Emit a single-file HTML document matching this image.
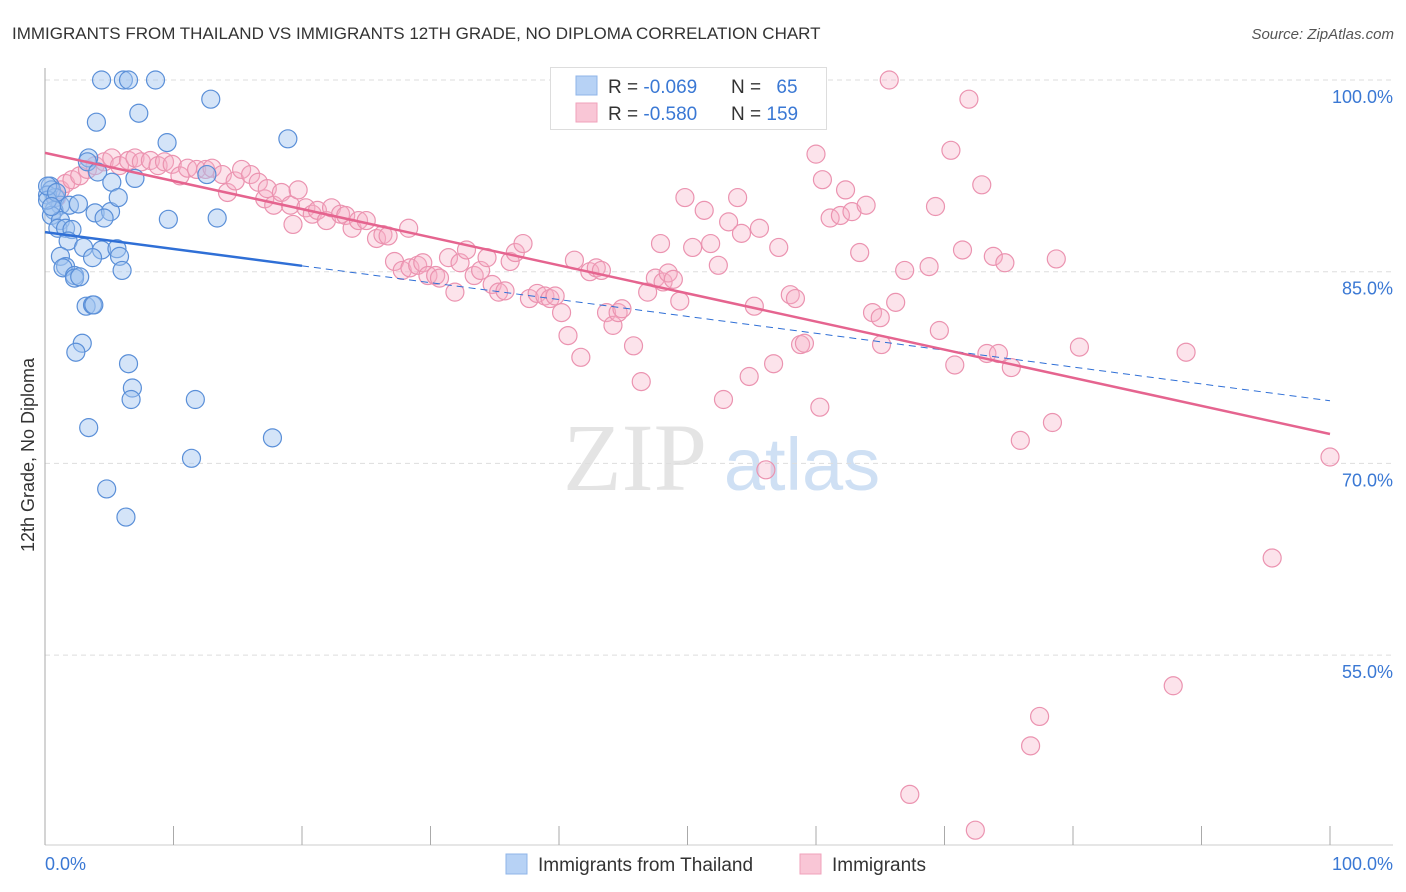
<!DOCTYPE html>
<html><head><meta charset="utf-8"><style>
body{margin:0;background:#fff;font-family:"Liberation Sans",sans-serif;}
#wrap{position:relative;width:1406px;height:892px;overflow:hidden;}
</style></head><body>
<div id="wrap">
<svg id="chart" width="1406" height="892">
<text x="12" y="39" font-size="17" fill="#333">IMMIGRANTS FROM THAILAND VS IMMIGRANTS 12TH GRADE, NO DIPLOMA CORRELATION CHART</text>
<text x="1394" y="39" font-size="15" fill="#555" font-style="italic" text-anchor="end">Source: ZipAtlas.com</text>
<text x="0" y="0" transform="translate(34,455) rotate(-90)" font-size="18" fill="#333" text-anchor="middle">12th Grade, No Diploma</text>
<g>
<text x="635" y="490" font-size="96" fill="#e4e4e4" font-family="Liberation Serif,serif" text-anchor="middle">ZIP</text>
<text x="802" y="490" font-size="74" fill="#cfe0f4" text-anchor="middle">atlas</text>
</g>
<g id="grid"></g><g id="axes"></g><g id="pts"></g><g id="trend"></g>
<g>
<rect x="550.5" y="67.5" width="276" height="62" fill="#fff" stroke="#ddd"/>
<rect x="576" y="76" width="21" height="19" fill="#b7d2f5" stroke="#8fb4e8"/>
<rect x="576" y="103" width="21" height="19" fill="#f9c6d6" stroke="#f0a2bb"/>
<text x="608" y="93" font-size="19" fill="#333">R = <tspan fill="#3a78d4">-0.069</tspan></text>
<text x="731" y="93" font-size="19" fill="#333">N = <tspan fill="#3a78d4" dx="10">65</tspan></text>
<text x="608" y="120" font-size="19" fill="#333">R = <tspan fill="#3a78d4">-0.580</tspan></text>
<text x="731" y="120" font-size="19" fill="#333">N = <tspan fill="#3a78d4">159</tspan></text>
</g>
<g>
<rect x="506" y="854" width="21" height="20" fill="#b7d2f5" stroke="#8fb4e8"/>
<text x="538" y="871" font-size="19" fill="#333">Immigrants from Thailand</text>
<rect x="800" y="854" width="21" height="20" fill="#f9c6d6" stroke="#f0a2bb"/>
<text x="832" y="871" font-size="19" fill="#333">Immigrants</text>
</g>
</svg>
</div>
<script>
const yTicks=[100,85,70,55];
const yTickLabels=["100.0%","85.0%","70.0%","55.0%"];
const xTickLabels=["0.0%","100.0%"];
const blueX=[4.4,6.1,6.5,8.6,12.9,7.3,4.0,9.5,18.9,3.4,3.3,4.1,5.2,7.0,12.6,0.4,0.5,0.2,0.8,1.2,0.7,0.5,1.2,1.9,2.6,3.9,5.1,5.7,4.6,9.6,13.4,1.0,1.6,2.1,1.8,3.0,4.4,5.6,5.8,3.7,1.2,1.6,1.4,6.0,2.3,2.3,2.7,3.2,3.7,3.8,2.9,2.4,6.5,6.8,6.7,11.7,3.4,17.7,11.4,4.8,6.3,0.2,0.2,0.9,0.5];
const blueY=[100,100,100,100,98.5,97.4,96.7,95.1,95.4,93.9,93.6,92.8,92.0,92.3,92.6,91.7,91.4,91.0,90.8,90.2,89.8,89.4,89.0,90.2,90.3,89.6,89.7,90.8,89.2,89.1,89.2,88.4,88.4,88.3,87.4,86.9,86.7,86.8,86.2,86.1,86.2,85.4,85.3,85.1,84.7,84.5,84.6,82.3,82.4,82.4,79.4,78.7,77.8,75.9,75.0,75.0,72.8,72.0,70.4,68.0,65.8,90.6,91.7,91.2,90.1];
const pinkX=[0.9,1.2,1.6,2.1,2.7,3.3,3.9,4.6,5.2,5.8,6.5,7.0,7.5,8.2,8.8,9.3,9.9,10.5,11.1,11.8,12.5,13.0,13.8,14.2,14.8,15.3,16.0,16.6,17.1,17.3,17.8,18.4,19.1,19.3,19.7,20.3,20.8,21.2,21.9,22.3,23.0,23.4,23.9,24.4,25.0,25.8,26.3,26.7,27.2,27.8,28.3,28.4,29.0,29.4,29.8,30.4,30.7,31.4,31.9,32.3,32.8,33.4,33.9,34.4,34.8,35.3,35.8,36.2,36.6,37.2,37.7,38.3,38.9,39.3,39.7,40.2,40.7,41.2,41.7,42.4,42.9,43.3,43.7,44.2,44.6,44.9,45.8,46.4,46.9,47.5,47.9,48.1,48.5,48.9,49.4,49.8,50.4,51.3,51.8,52.4,52.8,53.2,53.9,54.2,54.8,55.2,55.6,56.1,56.7,57.1,58.0,58.4,58.8,59.1,60.0,60.3,60.5,61.1,61.9,62.3,62.8,63.4,63.9,64.4,65.0,65.1,65.7,66.2,66.9,67.3,68.8,69.3,69.6,70.5,70.8,71.4,71.9,72.4,72.9,73.3,73.8,74.2,74.7,75.2,75.9,76.7,77.4,78.4,78.7,80.5,87.8,88.8,95.5,100];
const pinkY=[90.8,91.4,91.9,92.2,92.5,93.0,93.3,93.6,93.9,93.3,93.7,93.9,93.6,93.7,93.3,93.6,93.4,92.5,93.1,93.0,93.0,93.1,92.6,91.2,92.1,93.0,92.6,92.0,90.7,91.5,90.2,91.2,90.2,88.7,91.4,90.0,89.5,89.8,89.0,90.0,89.5,89.4,88.4,89.0,89.0,87.6,87.9,87.8,85.8,85.1,88.4,85.3,85.5,85.7,84.7,84.7,84.5,86.1,83.4,85.7,86.7,84.7,85.1,86.1,84.0,83.4,83.5,85.8,86.5,87.2,82.9,83.3,83.1,82.9,83.1,81.8,80.0,85.9,78.3,85.0,85.3,85.1,81.8,80.8,81.8,82.1,79.2,76.4,83.4,84.5,87.2,84.2,84.9,84.4,82.7,90.8,86.9,89.8,87.2,85.5,75.0,88.9,90.8,88.0,76.8,82.3,88.4,69.5,77.8,86.9,83.2,82.9,79.3,79.4,94.2,74.4,92.2,89.2,89.4,91.4,89.7,86.5,90.2,81.8,81.4,79.3,100,82.6,85.1,44.1,85.4,90.1,80.4,94.5,77.7,86.7,98.5,41.3,91.8,78.6,86.2,78.6,85.7,77.5,71.8,47.9,50.2,73.2,86.0,79.1,52.6,78.7,62.6,70.5];
const blueTrend=[88.1,74.9];
const pinkTrend=[94.3,72.3];
const NS='http://www.w3.org/2000/svg';
const X=v=>45+v*12.85, Y=v=>80+(100-v)*12.78;
function mk(p,t,a){const e=document.createElementNS(NS,t);for(const k in a)e.setAttribute(k,a[k]);p.appendChild(e);return e;}
const grid=document.getElementById('grid'),axes=document.getElementById('axes'),pts=document.getElementById('pts'),tr=document.getElementById('trend');
yTicks.forEach((t,i)=>{
 const l=mk(grid,'line',{x1:45,x2:1393,y1:Y(t),y2:Y(t),stroke:'#ddd','stroke-dasharray':'5,4'});
 
 
 const tx=mk(axes,'text',{x:1393,y:Y(t)+23,'font-size':18,fill:'#3a78d4','text-anchor':'end'});
 tx.textContent=yTickLabels[i];
 
 
});
const ya=mk(axes,'line',{x1:45,x2:45,y1:68,y2:845,stroke:'#aaa'});


const xa=mk(axes,'line',{x1:45,x2:1393,y1:845,y2:845,stroke:'#ccc'});


for(let i=0;i<=10;i++){
 const t=mk(axes,'line',{x1:X(i*10),x2:X(i*10),y1:826,y2:845,stroke:'#aaa'});
 
 
}
[[0,'start',45],[1,'end',1393]].forEach(([i,a,x])=>{
 const t=mk(axes,'text',{x:x,y:870,'font-size':18,fill:'#3a78d4','text-anchor':a});
 t.textContent=xTickLabels[i];
 
 
});
pinkX.forEach((v,i)=>{
 const c=mk(pts,'circle',{cx:X(v),cy:Y(pinkY[i]),r:9,fill:'rgba(246,175,198,0.35)',stroke:'#eb93b0','stroke-width':1.2});
 
 
});
blueX.forEach((v,i)=>{
 const c=mk(pts,'circle',{cx:X(v),cy:Y(blueY[i]),r:9,fill:'rgba(160,195,240,0.45)',stroke:'#5a8fd8','stroke-width':1.2});
 
 
});
const bAt=x=>blueTrend[0]+(blueTrend[1]-blueTrend[0])*x/100;
const b1=mk(tr,'line',{x1:X(0),y1:Y(bAt(0)),x2:X(20),y2:Y(bAt(20)),stroke:'#2f6fd6','stroke-width':2.5});


const b2=mk(tr,'line',{x1:X(20),y1:Y(bAt(20)),x2:X(100),y2:Y(bAt(100)),stroke:'#2f6fd6','stroke-width':1,'stroke-dasharray':'7,5'});


const p1=mk(tr,'line',{x1:X(0),y1:Y(pinkTrend[0]),x2:X(100),y2:Y(pinkTrend[1]),stroke:'#e5648f','stroke-width':2.5});


</script>
</body></html>
